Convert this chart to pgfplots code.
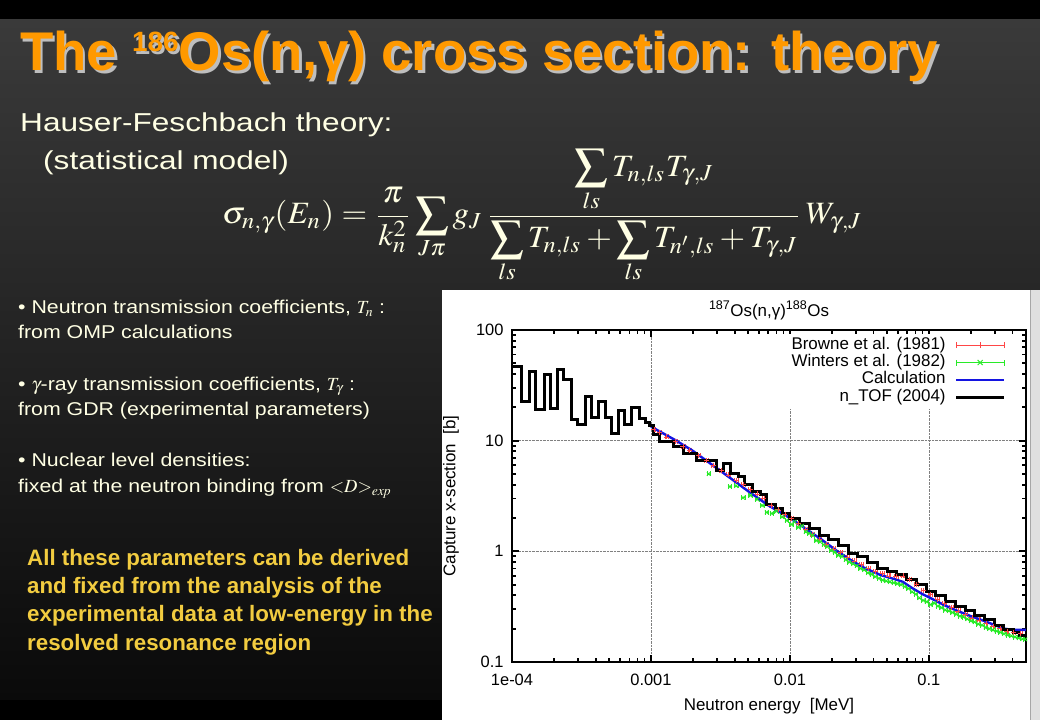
\documentclass[border=0pt]{standalone}
\usepackage{mathptmx}
\usepackage[no-math]{fontspec}
\setmainfont{Liberation Sans}
\newfontfamily\plotfont{Liberation Sans}
\newfontfamily\bodyfont[FakeStretch=1.15]{Liberation Sans}
\newfontfamily\headfont[FakeStretch=1.22]{Liberation Sans}
\usepackage{graphicx}
\usepackage{pgfplots}
\pgfplotsset{compat=1.18}

\definecolor{bgtop}{RGB}{58,58,58}
\definecolor{bgbot}{RGB}{10,10,10}
\definecolor{slidetxt}{RGB}{255,255,228}
\definecolor{ttlorange}{RGB}{255,153,0}
\definecolor{ttlshadow}{RGB}{190,190,190}
\definecolor{ylw}{RGB}{242,204,64}
\definecolor{gpred}{RGB}{255,70,70}
\definecolor{gpgreen}{RGB}{40,235,40}
\definecolor{gpblue}{RGB}{20,20,225}

\newcommand\titletext{\fontsize{54.7}{55}\selectfont\bfseries The \raisebox{19bp}{\fontsize{28}{28}\selectfont 186}Os(n,γ) cross section: theory}
\newcommand\bodysz{\bodyfont\fontsize{18.6}{22}\selectfont}
\newcommand\headsz{\headfont\fontsize{26}{30}\selectfont}
\newcommand\ylwsz{\fontsize{22.4}{26}\selectfont\bfseries}
\newcommand\plotsz{\plotfont\fontsize{17}{17}\selectfont}

\begin{document}
\begin{tikzpicture}
\useasboundingbox (0,0) rectangle (1040bp,720bp);
\begin{scope}[x=1bp,y=1bp]
\fill[black] (0,0) rectangle (1040,720);
\shade[top color=bgtop, bottom color=bgbot] (0,20) rectangle (1040,700);
% title with light shadow
\node[anchor=base west, inner sep=0, text=ttlshadow] at (22.5,646.5) {\titletext};
\node[anchor=base west, inner sep=0, text=ttlorange] at (20,649) {\titletext};
% header lines
\node[anchor=base west, inner sep=0, text=slidetxt] at (20,588.3) {\headsz Hauser-Feschbach theory:};
\node[anchor=base west, inner sep=0, text=slidetxt] at (43,550) {\headsz (statistical model)};
% formula
\node[anchor=north west, inner sep=0, text=slidetxt] at (222,571) {\resizebox*{640bp}{134bp}{$\displaystyle
  \sigma_{n,\gamma}(E_n)=\frac{\pi}{k_n^2}\sum_{J\pi} g_J\,
  \frac{\displaystyle\sum_{ls} T_{n,ls}T_{\gamma,J}}{\displaystyle\sum_{ls}T_{n,ls}+\sum_{ls}T_{n',ls}+T_{\gamma,J}}\,W_{\gamma,J}$}};
% bullets
\node[anchor=base west, inner sep=0, text=slidetxt] at (18,406) {\bodysz • Neutron transmission coefficients, $T_n$ :};
\node[anchor=base west, inner sep=0, text=slidetxt] at (18,381.7) {\bodysz from OMP calculations};
\node[anchor=base west, inner sep=0, text=slidetxt] at (18,330) {\bodysz • $\gamma$-ray transmission coefficients, $T_\gamma$ :};
\node[anchor=base west, inner sep=0, text=slidetxt] at (18,305) {\bodysz from GDR (experimental parameters)};
\node[anchor=base west, inner sep=0, text=slidetxt] at (18,253.3) {\bodysz • Nuclear level densities:};
\node[anchor=base west, inner sep=0, text=slidetxt] at (18,227.3) {\bodysz fixed at the neutron binding from $\mathord{<}D\mathord{>}_{\mathit{exp}}$};
% yellow paragraph
\foreach \yy/\tt in {155/{All these parameters can be derived},126.7/{and fixed from the analysis of the},98.3/{experimental data at low-energy in the},70/{resolved resonance region}}{
  \node[anchor=base west, inner sep=0, text=ylw] at (27,\yy) {\ylwsz \tt};
}
% plot panel
\fill[white] (442,0) rectangle (1030,430);
\fill[gray!25] (1030,0) rectangle (1040,430);
\draw[gray!70, line width=1bp] (1030.5,0) -- (1030.5,430);
\end{scope}

\begin{axis}[
  at={(512bp,58bp)}, anchor=south west,
  scale only axis, width=514bp, height=332bp,
  xmode=log, ymode=log,
  xmin=1e-4, xmax=0.5, ymin=0.1, ymax=100,
  xtick={1e-4,1e-3,1e-2,1e-1}, xticklabels={1e-04,0.001,0.01,0.1},
  ytick={0.1,1,10,100}, yticklabels={0.1,1,10,100},
  minor xtick={2e-4,3e-4,4e-4,5e-4,6e-4,7e-4,8e-4,9e-4,2e-3,3e-3,4e-3,5e-3,6e-3,7e-3,8e-3,9e-3,2e-2,3e-2,4e-2,5e-2,6e-2,7e-2,8e-2,9e-2,0.2,0.3,0.4},
  minor ytick={0.2,0.3,0.4,0.5,0.6,0.7,0.8,0.9,2,3,4,5,6,7,8,9,20,30,40,50,60,70,80,90},
  tick align=inside,
  major tick length=7bp, minor tick length=4bp,
  every tick/.style={black, line width=1.8bp},
  grid=major,
  major grid style={densely dotted, gray, line width=0.7bp},
  axis line style={line width=2.6bp},
  ticklabel style={font=\plotfont\fontsize{16.5}{16.5}\selectfont},
  xticklabel style={yshift=-8bp},
  yticklabel style={xshift=-5bp},
  xlabel={Neutron energy\ \ [MeV]},
  ylabel={Capture x-section\ \ [b]},
  every axis x label/.style={at={(rel axis cs:0.5,0)}, yshift=-44bp, anchor=center, font=\plotsz},
  every axis y label/.style={at={(rel axis cs:0,0.5)}, xshift=-61bp, rotate=90, anchor=center, font=\plotsz},
  title={\textsuperscript{187}Os(n,γ)\textsuperscript{188}Os},
  title style={at={(rel axis cs:0.5,1)}, anchor=base, yshift=8bp, font=\plotsz},
  legend plot pos=right, legend cell align=right,
  legend style={at={(rel axis cs:1,1)}, anchor=north east, xshift=-14bp, yshift=-3.4bp,
    fill=white, draw=none, inner xsep=6bp, inner ysep=3bp, font=\plotsz,
    nodes={inner sep=0pt, text height=12.6bp, text depth=4.7bp},
    /tikz/column sep=9bp},
]
\addplot[only marks, mark=+, mark size=2.5bp, gpred, line width=0.6bp,
  legend image code/.code={
    \draw[gpred, line width=0.8bp] (0bp,0bp) -- (48bp,0bp);
    \draw[gpred, line width=0.8bp] (0bp,-3bp) -- (0bp,3bp) (48bp,-3bp) -- (48bp,3bp) (24bp,-3bp) -- (24bp,3bp);},
  error bars/.cd, x dir=both, x fixed relative=0.03, error bar style={gpred, line width=0.6bp}]
coordinates {
(0.00105,12.6) (0.00115,11.8) (0.0013,10.8) (0.0015,9.8) (0.0017,8.9) (0.0019,8.2)
(0.0022,7.3) (0.0025,6.6) (0.0028,6.0) (0.0032,5.4) (0.0036,4.9) (0.0041,4.4)
(0.0046,4.0) (0.0052,3.6) (0.0058,3.3) (0.0065,3.0) (0.0073,2.6) (0.0082,2.4)
(0.0092,2.15) (0.0103,1.98) (0.0115,1.78) (0.013,1.58) (0.0145,1.42) (0.0163,1.28)
(0.0183,1.15) (0.0205,1.05) (0.023,0.97) (0.026,0.88) (0.029,0.82) (0.0325,0.76)
(0.0365,0.70) (0.041,0.66) (0.046,0.63) (0.0515,0.60) (0.058,0.59) (0.065,0.60)
(0.072,0.56) (0.081,0.50) (0.091,0.44) (0.102,0.41) (0.115,0.37) (0.129,0.34)
(0.145,0.31) (0.162,0.29) (0.182,0.27) (0.204,0.25) (0.229,0.24) (0.257,0.225)
(0.289,0.21) (0.324,0.20) (0.364,0.19) (0.408,0.185) (0.458,0.18)
};
\addlegendentry{Browne et al. (1981)}
\addplot[only marks, mark=x, mark size=2.5bp, gpgreen, line width=0.9bp,
  legend image code/.code={
    \draw[gpgreen, line width=0.8bp] (0bp,0bp) -- (48bp,0bp);
    \draw[gpgreen, line width=0.8bp] (0bp,-3bp) -- (0bp,3bp) (48bp,-3bp) -- (48bp,3bp);
    \draw[gpgreen, line width=1bp] (21.5bp,-2.5bp) -- (26.5bp,2.5bp) (21.5bp,2.5bp) -- (26.5bp,-2.5bp);},
  error bars/.cd, x dir=both, x fixed relative=0.03, error bar style={gpgreen, line width=0.6bp}]
coordinates {
(0.0026,5.0) (0.0037,3.85) (0.0041,3.9) (0.0046,3.05) (0.0052,3.2) (0.0058,2.95)
(0.0063,2.6) (0.0068,2.25) (0.0074,2.2) (0.0080,2.3) (0.0088,2.05) (0.0095,1.9)
(0.0102,1.75) (0.0108,1.85) (0.0115,1.65) (0.0122,1.7) (0.0130,1.5) (0.0138,1.45)
(0.0146,1.4) (0.0155,1.25) (0.0165,1.22) (0.0175,1.15) (0.0186,1.1) (0.0198,1.02)
(0.021,0.98) (0.0223,0.92) (0.0237,0.9) (0.0252,0.84) (0.0268,0.80) (0.0285,0.77)
(0.0303,0.74) (0.0322,0.70) (0.0342,0.68) (0.0364,0.64) (0.0387,0.62) (0.0411,0.59)
(0.0437,0.57) (0.0465,0.55) (0.0494,0.54) (0.0525,0.53) (0.0558,0.52) (0.0593,0.51)
(0.063,0.50) (0.067,0.48) (0.0712,0.46) (0.0757,0.43) (0.0805,0.41) (0.0855,0.38)
(0.0909,0.36) (0.0966,0.35) (0.1027,0.33) (0.1092,0.34) (0.116,0.32) (0.1233,0.31)
(0.131,0.295) (0.1393,0.29) (0.148,0.28) (0.1573,0.27) (0.1672,0.26) (0.1777,0.255)
(0.1889,0.245) (0.2007,0.235) (0.2133,0.23) (0.2267,0.22) (0.241,0.215) (0.2561,0.205)
(0.2722,0.2) (0.2893,0.195) (0.3075,0.19) (0.3268,0.185) (0.3473,0.18) (0.3691,0.175)
(0.3923,0.172) (0.417,0.168) (0.4432,0.165) (0.471,0.162) (0.495,0.16)
};
\addlegendentry{Winters et al. (1982)}
\addplot[gpblue, line width=2.4bp,
  legend image code/.code={\draw[gpblue, line width=2.4bp] (0bp,0bp) -- (48bp,0bp);}]
coordinates {
(0.001,13.4) (0.0015,10.1) (0.002,8.1) (0.003,5.6) (0.005,3.5) (0.007,2.6)
(0.01,2.0) (0.013,1.6) (0.017,1.27) (0.022,1.0) (0.028,0.82) (0.035,0.70)
(0.045,0.61) (0.057,0.56) (0.065,0.53) (0.075,0.47) (0.09,0.41) (0.1,0.385)
(0.13,0.325) (0.16,0.29) (0.2,0.26) (0.25,0.235) (0.3,0.215) (0.35,0.20)
(0.4,0.195) (0.5,0.195)
};
\addlegendentry{Calculation}
\addplot[const plot, black, line width=3bp,
  legend image code/.code={\draw[black, line width=3.2bp] (0bp,0bp) -- (48bp,0bp);}]
coordinates {
(1.00e-4,46.6) (1.17e-4,22.5) (1.33e-4,41.8) (1.48e-4,19.3) (1.71e-4,39.5)
(1.90e-4,19.5) (2.12e-4,43.6) (2.35e-4,35.5) (2.68e-4,15.4) (2.98e-4,14.1)
(3.36e-4,25.0) (3.72e-4,16.2) (4.18e-4,22.5) (4.70e-4,16.2) (5.24e-4,11.6)
(5.83e-4,18.9) (6.41e-4,13.9) (7.28e-4,19.9) (8.26e-4,15.9) (9.10e-4,14.7)
(9.70e-4,13.6) (1.04e-3,11.3) (1.16e-3,9.8) (1.45e-3,8.8) (1.71e-3,7.7)
(2.14e-3,6.6) (2.96e-3,5.4) (3.32e-3,6.25) (3.71e-3,5.1) (4.26e-3,4.75)
(4.75e-3,4.0) (5.40e-3,3.5) (6.17e-3,3.25) (6.76e-3,2.65) (7.94e-3,2.45)
(8.91e-3,2.2) (1.00e-2,2.0) (1.175e-2,1.78) (1.38e-2,1.62) (1.622e-2,1.40)
(1.905e-2,1.27) (2.239e-2,1.12) (2.63e-2,0.96) (3.09e-2,0.90) (3.631e-2,0.80)
(4.266e-2,0.70) (5.012e-2,0.66) (5.888e-2,0.62) (6.918e-2,0.56) (8.128e-2,0.50)
(9.55e-2,0.43) (0.1122,0.40) (0.1318,0.355) (0.1549,0.32) (0.182,0.29)
(0.2138,0.265) (0.2512,0.24) (0.2951,0.215) (0.3467,0.195) (0.4074,0.185)
(0.452,0.175) (0.5,0.175)
};
\addlegendentry{n\_TOF (2004)}
\end{axis}
\end{tikzpicture}
\end{document}
